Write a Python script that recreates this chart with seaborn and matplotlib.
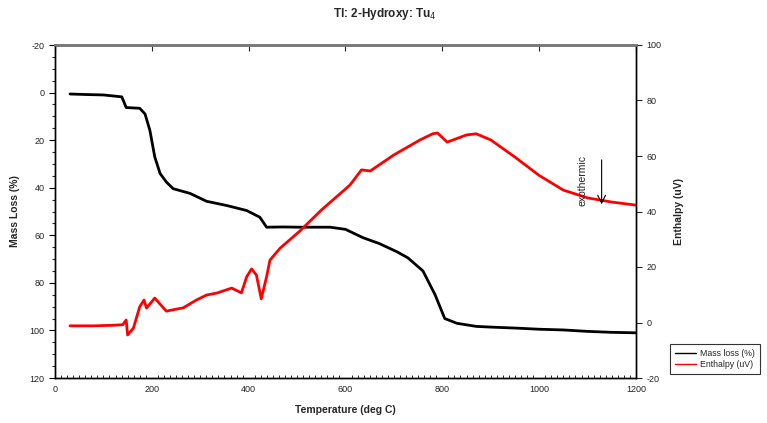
import matplotlib
matplotlib.use("Agg")
import matplotlib.pyplot as plt
from matplotlib.ticker import MultipleLocator
from matplotlib.lines import Line2D
import seaborn as sns
import pandas as pd

# ---- data ----
mass_temp = [31, 60, 100, 138, 147, 175, 186, 196, 206, 217, 230, 244, 279, 313, 355,
             396, 423, 437, 470, 506, 568, 600, 636, 670, 706, 729, 760, 785, 805, 830,
             870, 900, 950, 1000, 1050, 1100, 1150, 1200]
mass_loss = [0.6, 0.8, 1.0, 1.8, 6.3, 6.6, 9.0, 15.9, 27.0, 34.0, 37.6, 40.4, 42.4, 45.7, 47.5,
             49.6, 52.4, 56.6, 56.5, 56.6, 56.6, 57.5, 61.0, 63.5, 66.9, 69.5, 75.0, 85.0, 95.0, 97.0,
             98.3, 98.6, 99.0, 99.5, 99.8, 100.4, 100.8, 101.0]

enth_temp = [31, 80, 120, 140, 147, 150, 162, 175, 184, 189, 206, 230, 265, 292, 313, 334,
             365, 385, 396, 406, 416, 426, 437, 444, 465, 506, 550, 609, 633, 651, 700,
             754, 780, 790, 810, 850, 870, 900, 950, 1000, 1050, 1100, 1150, 1200]
enthalpy = [-1.2, -1.2, -1.0, -0.8, 0.9, -4.5, -2.0, 5.7, 8.1, 5.2, 8.8, 4.1, 5.3, 8.1, 9.9, 10.6,
            12.4, 10.7, 16.5, 19.3, 17.1, 8.5, 16.5, 22.5, 26.8, 33.0, 40.5, 49.5, 55.0, 54.6, 60.4,
            65.8, 68.0, 68.3, 65.0, 67.6, 68.0, 65.8, 59.6, 53.0, 47.7, 44.9, 43.4, 42.3]

title = "Tl: 2-Hydroxy: Tu$_4$"
xlabel = "Temperature (deg C)"
ylabel_left = "Mass Loss (%)"
ylabel_right = "Enthalpy (uV)"
legend_labels = ["Mass loss (%)", "Enthalpy (uV)"]

# ---- styling ----
sns.set_style("ticks")
plt.rcParams["font.family"] = ["Liberation Sans", "DejaVu Sans"]
plt.rcParams["axes.unicode_minus"] = False

fig = plt.figure(figsize=(7.67, 4.23), dpi=100)
ax = fig.add_axes([55 / 767, 1 - 378 / 423, (636 - 55) / 767, (378 - 45) / 423])
ax2 = ax.twinx()

df_mass = pd.DataFrame({"T": mass_temp, "m": mass_loss})
df_enth = pd.DataFrame({"T": enth_temp, "h": enthalpy})

sns.lineplot(data=df_mass, x="T", y="m", ax=ax, color="black", linewidth=2.0,
             sort=False, legend=False)
sns.lineplot(data=df_enth, x="T", y="h", ax=ax2, color="#ff0000", linewidth=2.0,
             sort=False, legend=False)

# axes limits / ticks
ax.set_xlim(0, 1200)
ax.set_ylim(120, -20)
ax.set_yticks(range(-20, 121, 20))
ax.yaxis.set_minor_locator(MultipleLocator(5))
ax.set_xticks(range(0, 1201, 200))
ax.xaxis.set_minor_locator(MultipleLocator(12.5))
ax2.set_ylim(-20, 100)
ax2.set_yticks(range(-20, 101, 20))

ax.tick_params(axis="y", which="major", direction="out", length=4, width=0.8,
               labelsize=6.5, colors="black", labelcolor="#222222")
ax.tick_params(axis="y", which="minor", direction="out", length=2.5, width=0.8)
ax.tick_params(axis="x", which="major", direction="in", length=0, labelsize=6.5,
               labelcolor="#222222", top=True, bottom=True, pad=5)
ax.tick_params(axis="x", which="minor", direction="in", length=2.5, width=0.7,
               bottom=True, top=False)
ax2.tick_params(axis="y", direction="out", length=4, width=0.8, labelsize=6.5,
                labelcolor="#222222")

for a in (ax, ax2):
    for s in a.spines.values():
        s.set_visible(True)
        s.set_linewidth(1.0)
        s.set_color("black")
    a.spines["top"].set_color("#777777")
    a.spines["top"].set_linewidth(1.8)

# top major ticks inward
for t in ax.xaxis.get_major_ticks():
    t.tick2line.set_markersize(4)
    t.tick2line.set_color("#555555")

ax.set_xlabel(xlabel, fontsize=7.5, fontweight="bold", labelpad=8)
ax.set_ylabel(ylabel_left, fontsize=7.5, fontweight="bold", labelpad=7)
ax2.set_ylabel(ylabel_right, fontsize=7.5, fontweight="bold", labelpad=9)
fig.text(385 / 767, 1 - 14 / 423, title, ha="center", va="center",
         fontsize=8.5, fontweight="bold")

# exothermic annotation
ax2.annotate("", xy=(1129, 41.6), xytext=(1129, 59.6),
             arrowprops=dict(arrowstyle="->", color="black", lw=0.8,
                             mutation_scale=14))
ax2.text(1090, 51.0, "exothermic", rotation=90, ha="center", va="center",
         fontsize=7.5, color="#222222")

# legend outside right
handles = [Line2D([], [], color="black", lw=1.0), Line2D([], [], color="#ff0000", lw=1.0)]
leg = fig.legend(handles, legend_labels, loc="upper left",
                 bbox_to_anchor=(670 / 767, 1 - 344 / 423), fontsize=6.3,
                 frameon=True, fancybox=False, edgecolor="black", handlelength=2.4,
                 borderpad=0.55, labelspacing=0.3, handletextpad=0.5,
                 borderaxespad=0)
leg.get_frame().set_linewidth(0.8)

fig.savefig("out.png", dpi=100)
